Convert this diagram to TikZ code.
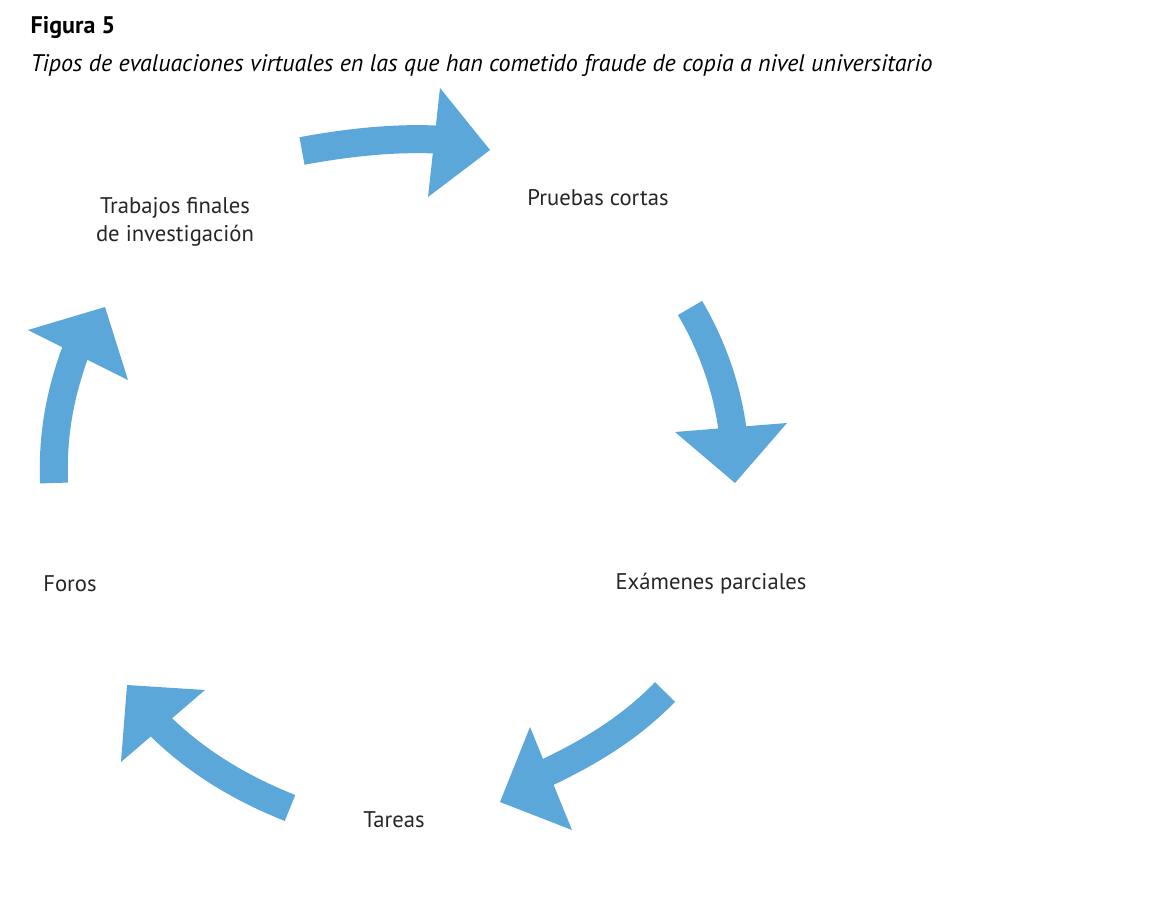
\documentclass[tikz,border=0pt]{standalone}
\usepackage{fontspec}
\setmainfont{PT Sans}
\definecolor{arr}{HTML}{5BA7DA}
\begin{document}
\begin{tikzpicture}[x=0.75pt,y=-0.75pt,
  shaft/.style={draw=arr,line width=21pt},
  head/.style={fill=arr},
  lab/.style={font=\fontsize{17}{21}\selectfont,align=center,text=black!85}]
\useasboundingbox (0,0) rectangle (1152,910);
\node[anchor=west,font=\fontsize{18}{22}\selectfont\bfseries] (fig) at (26,28) {Figura 5};
\node[anchor=west,font=\fontsize{18}{22}\selectfont\itshape] (sub) at (26,65) {Tipos de evaluaciones virtuales en las que han cometido fraude de copia a nivel universitario};
% arrows
\draw[shaft] (302,151) .. controls (350,142) and (400,137) .. (444,140);
\fill[head] (440,88) -- (490,150) -- (428,197) -- cycle;
\draw[shaft] (690,308) .. controls (712,345) and (728,390) .. (733,434);
\fill[head] (675,432) -- (787,423) -- (735,483) -- cycle;
\draw[shaft] (665,692) .. controls (630,728) and (590,752) .. (546,773);
\fill[head] (530,727) -- (500,802) -- (572,830) -- cycle;
\draw[shaft] (290,808) .. controls (245,790) and (200,765) .. (160,726);
\fill[head] (205,690) -- (127,685) -- (121,762) -- cycle;
\draw[shaft] (54,483) .. controls (52,430) and (62,385) .. (80,340);
\fill[head] (28,330) -- (105,307) -- (128,380) -- cycle;
% labels
\node[lab] (trab) at (175,222) {Trabajos finales\\de investigación};
\node[lab] (prue) at (598,198) {Pruebas cortas};
\node[lab] (exam) at (711,584) {Exámenes parciales};
\node[lab] (foro) at (70,584) {Foros};
\node[lab] (tare) at (394,820) {Tareas};
\end{tikzpicture}
\end{document}
